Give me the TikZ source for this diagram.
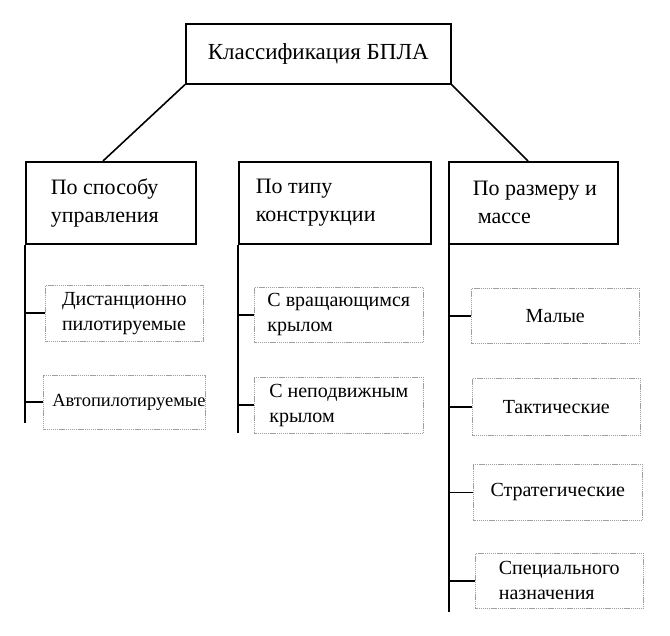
\documentclass[tikz,border=0pt]{standalone}
\usepackage{fontspec}
\setmainfont{Liberation Serif}
\usetikzlibrary{calc}
\begin{document}
\begin{tikzpicture}[x=1pt,y=-1pt,
  main/.style={draw=black,line width=1.6pt,inner sep=0pt,anchor=north west,align=flush left,
    font=\fontsize{22}{28}\selectfont},
  top/.style={draw=black,line width=1.6pt,inner sep=0pt,anchor=north west,
    font=\fontsize{23}{27}\selectfont},
  sub/.style={draw=gray!75,line width=0.6pt,dash pattern=on 1.2pt off 0.7pt,inner sep=0pt,
    anchor=north west,align=left,font=\fontsize{20}{25}\selectfont},
  link/.style={draw=black,line width=1.6pt}]
\useasboundingbox (0,0) rectangle (670,636);

\node[top,minimum width=265pt,minimum height=60pt] (T) at (185,23) {Классификация БПЛА};

\node[main,text width=170pt,minimum height=82pt] (c1) at (25,161)
  {\hspace*{25pt}По способу\\\hspace*{25pt}управления};
\node[main,text width=192pt,minimum height=82pt] (c2) at (238,161)
  {\hspace*{17pt}По типу\\\hspace*{17pt}конструкции};
\node[main,text width=169pt,minimum height=82pt] (c3) at (448,161)
  {\hspace*{24pt}По размеру и\\\hspace*{29pt}массе};

\node[sub,minimum width=158pt,minimum height=56pt] (s11) at (45,285) {Дистанционно\\пилотируемые};
\node[sub,minimum width=162pt,minimum height=54pt] (s12) at (43,375) {\makebox[162pt][l]{\hspace*{9pt}\fontsize{18.5}{24}\selectfont Автопилотируемые}};
\node[sub,minimum width=169pt,minimum height=55pt] (s21) at (254,287) {С вращающимся\\крылом};
\node[sub,minimum width=169pt,minimum height=56pt] (s22) at (254,377) {С неподвижным\\крылом};
\node[sub,minimum width=168pt,minimum height=55pt] (s31) at (471,288) {Малые};
\node[sub,minimum width=168pt,minimum height=57pt] (s32) at (472,378) {Тактические};
\node[sub,minimum width=169pt,minimum height=56pt] (s33) at (473,464) {Стратегические};
\node[sub,minimum width=168pt,minimum height=55pt] (s34) at (475,553) {Специального\\назначения};

% links from the top box
\draw[link] (T.south west) -- ($(c1.north west)+(78,0)$);
\draw[link] ($(T.south west)+(135,0)$) -- ($(T.south west)+(135,0)$ |- c2.north);
\draw[link] (T.south east) -- ($(c3.north west)+(80,0)$);

% trunks
\coordinate (e1) at (25,423);
\coordinate (e2) at (238,433);
\coordinate (e3) at (449,612);
\draw[link] (c1.south west) -- (e1);
\draw[link] (c2.south west) -- (e2);
\draw[link] (c3.south west -| e3) -- (e3);

% branches
\draw[link] (s11.west -| e1) -- (s11.west);
\draw[link] (s12.west -| e1) -- (s12.west);
\draw[link] (s21.west -| e2) -- (s21.west);
\draw[link] (s22.west -| e2) -- (s22.west);
\draw[link] (s31.west -| e3) -- (s31.west);
\draw[link] (s32.west -| e3) -- (s32.west);
\draw[link] (s33.west -| e3) -- (s33.west);
\draw[link] (s34.west -| e3) -- (s34.west);
\end{tikzpicture}
\end{document}
